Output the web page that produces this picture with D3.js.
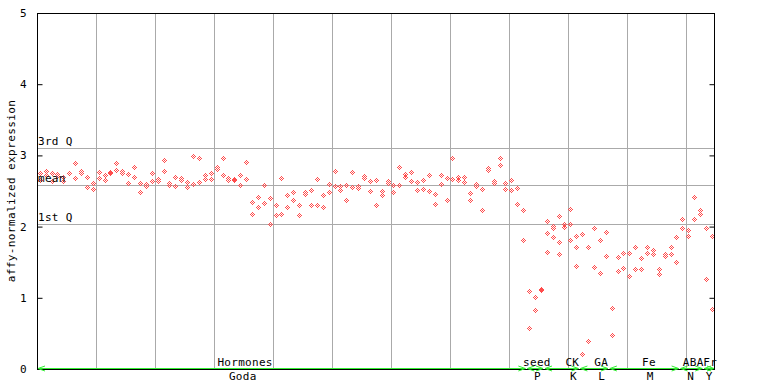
<!DOCTYPE html>
<html><head><meta charset="utf-8">
<script src="https://cdn.jsdelivr.net/npm/d3@7"></script>
<style>
body{margin:0;background:#fff}
text{font-family:"DejaVu Sans Mono",monospace;font-size:11px;fill:#000}
</style>
</head><body>
<svg id="c" width="768" height="384"></svg>
<script>
// ---- data ----
const hiVals = [2.75,2.78,2.75,2.73,2.69,2.75,2.88,2.78,2.69,2.61,
  2.76,2.72,2.76,2.89,2.78,2.73,2.83,2.61,2.59,2.75,
  2.66,2.93,2.61,2.69,2.67,2.62,2.99,2.96,2.72,2.75,
  2.83,2.96,2.68,2.66,2.72,2.90,2.34,2.41,2.58,2.40,
  2.30,2.68,2.43,2.48,2.30,2.48,2.51,2.66,2.44,2.59,
  2.78,2.57,2.58,2.76,2.56,2.71,2.64,2.65,2.50,2.63,
  2.58,2.83,2.73,2.76,2.62,2.65,2.72,2.45,2.72,2.68,
  2.95,2.69,2.69,2.47,2.59,2.52,2.81,2.63,2.95,2.61,
  2.65,2.54,2.23,1.09,1.01,1.11,2.07,2.00,2.14,2.03,
  2.24,1.86,1.89,1.71,1.98,1.81,1.92,0.85,1.57,1.62,
  1.62,1.70,1.55,1.71,1.67,1.40,1.61,1.70,1.84,2.10,
  1.95,2.41,2.23,1.98,1.86];
const loVals = [2.65,2.72,2.64,2.71,2.64,2.74,2.68,2.75,2.55,2.52,
  2.68,2.65,2.75,2.79,2.75,2.61,2.69,2.48,2.57,2.64,
  2.64,2.78,2.58,2.57,2.65,2.55,2.59,2.62,2.66,2.66,
  2.80,2.72,2.65,2.65,2.58,2.66,2.17,2.27,2.33,2.03,
  2.16,2.17,2.27,2.37,2.16,2.45,2.29,2.30,2.27,2.48,
  2.57,2.51,2.37,2.55,2.54,2.68,2.50,2.30,2.44,2.61,
  2.48,2.58,2.69,2.64,2.51,2.52,2.50,2.31,2.59,2.36,
  2.66,2.65,2.62,2.36,2.57,2.23,2.79,2.61,2.86,2.52,
  2.51,2.31,1.81,0.57,0.82,1.10,1.64,1.85,1.61,1.99,
  1.81,1.44,0.21,0.39,1.43,1.34,1.58,0.47,1.37,1.41,
  1.30,1.40,1.40,1.62,1.61,1.33,1.58,1.61,1.50,1.98,
  1.86,2.10,2.17,1.26,0.84];
const extraSample = [86, 87, 88, 90, 91];
const extraVals   = [1.91, 1.98, 1.77, 2.03, 1.71];

const yTicks = [0, 1, 2, 3, 4, 5];
const refNames  = ["3rd Q", "mean", "1st Q"];
const refValues = [3.10, 2.58, 2.04];

const catNames   = ["Hormones", "seed", "CK", "GA", "Fe", "ABA", "Fr"];
const subNames   = ["Goda", "P", "K", "L", "M", "N", "Y"];
const catStart   = [0, 83, 86, 92, 97, 109, 113];
const catEnd     = [83, 86, 92, 97, 109, 113, 115];
const catLabelAt = [35.3, 84.8, 90.8, 95.7, 103.8, 111.3, 114.2];
const subLabelAt = [34.9, 84.9, 91.0, 95.8, 104.0, 110.9, 114.0];
const nSamples = 115;

// ---- drawing ----
const RED = "#ff4c4c", GRID = "#aaaaaa", GREEN = "#33ee33";
const svg = d3.select("#c");
const x = d3.scaleLinear().domain([0, nSamples]).range([37, 715]);
const y = d3.scaleLinear().domain([0, 5]).range([369, 13]);

// vertical grid every 10 samples
const gridX = d3.range(10, nSamples, 10);
svg.append("g").selectAll("line").data(gridX).join("line")
  .attr("x1", d => Math.round(x(d)) + 0.5).attr("x2", d => Math.round(x(d)) + 0.5)
  .attr("y1", y(5)).attr("y2", y(0))
  .attr("stroke", GRID).attr("stroke-width", 1);

// reference lines
svg.append("g").selectAll("line").data(refValues).join("line")
  .attr("x1", x(0)).attr("x2", x(nSamples))
  .attr("y1", d => Math.round(y(d)) + 0.5).attr("y2", d => Math.round(y(d)) + 0.5)
  .attr("stroke", GRID).attr("stroke-width", 1);

// points
const pts = [];
for (let i = 0; i < nSamples; i++) {
  pts.push({i, v: loVals[i]});
  pts.push({i, v: hiVals[i]});
}
extraSample.forEach((s, k) => pts.push({i: s, v: extraVals[k]}));

const offs = [[0,0],[-2,0],[2,0],[0,-2],[0,2],[-1,-1],[1,-1],[-1,1],[1,1]];
function diamond(d) {
  const cx = Math.floor(x(d.i + 0.55)), cy = Math.floor(y(d.v));
  return offs.map(o => `M${cx + o[0]},${cy + o[1]}h1v1h-1z`).join("");
}
svg.append("g").attr("shape-rendering", "crispEdges")
  .selectAll("path").data(pts).join("path")
  .attr("d", diamond).attr("fill", RED);

// frame
svg.append("rect").attr("x", 37.5).attr("y", 13.5)
  .attr("width", 677).attr("height", 356)
  .attr("fill", "none").attr("stroke", "#000").attr("stroke-width", 1);

// left axis (inward ticks) and right ticks
const yAxisL = d3.axisLeft(y).tickValues(yTicks).tickSize(-5).tickPadding(11).tickFormat(d3.format("d"));
const gL = svg.append("g").attr("transform", "translate(37.5,0)").call(yAxisL);
gL.select(".domain").remove();
gL.selectAll("line").attr("stroke", "#000");
gL.selectAll("text").style("font-size", "11px").attr("fill", "#000");
const yAxisR = d3.axisRight(y).tickValues(yTicks).tickSize(-5).tickFormat("");
const gR = svg.append("g").attr("transform", "translate(714.5,0)").call(yAxisR);
gR.select(".domain").remove();
gR.selectAll("line").attr("stroke", "#000");

// reference labels
svg.append("g").selectAll("text").data(refNames).join("text")
  .attr("x", 38).attr("y", (d, k) => Math.round(y(refValues[k])) - 3)
  .style("letter-spacing", "0.3px").text(d => d);

// y label
svg.append("text")
  .attr("transform", "translate(15,191) rotate(-90)")
  .attr("text-anchor", "middle").style("letter-spacing", "0.4px")
  .text("affy-normalized expression");

// category arrows
const ga = svg.append("g").attr("stroke", GREEN).attr("fill", "none").attr("stroke-width", 1);
catStart.forEach((s, k) => {
  const xs = x(s) + 1, xe = x(catEnd[k]) - 1, yy = 368.5;
  ga.append("line").attr("x1", xs).attr("x2", xe).attr("y1", yy).attr("y2", yy);
  ga.append("path").attr("d", `M${xs + 7},${yy - 2.5}L${xs},${yy}L${xs + 7},${yy + 2.5}`);
  ga.append("path").attr("d", `M${xe - 7},${yy - 2.5}L${xe},${yy}L${xe - 7},${yy + 2.5}`);
});

// category labels
svg.append("g").selectAll("text").data(catNames).join("text")
  .attr("x", (d, k) => x(catLabelAt[k])).attr("y", 366)
  .attr("text-anchor", "middle").style("letter-spacing", "0.3px").text(d => d);
svg.append("g").selectAll("text").data(subNames).join("text")
  .attr("x", (d, k) => x(subLabelAt[k])).attr("y", 380)
  .attr("text-anchor", "middle").style("letter-spacing", "0.3px").text(d => d);
</script>
</body></html>
